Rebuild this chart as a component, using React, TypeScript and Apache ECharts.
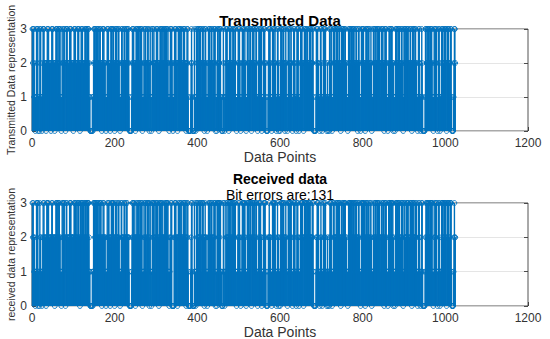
import React, { useEffect, useRef } from "react";
import * as echarts from "echarts";

// Symbol values 0..3 read (estimated) from the stem plots, 16 blocks of 64 points
const transmittedBlocks = [
  "3233121011332301103231101233322120223323221220233312220223323212",
  "3323110132223322023332122232332122202332321222333220223233212223",
  "2332232332110000010123323223223321233222023323222101133232220233",
  "3223322023233222332101123322123322232332231000001233232220233232",
  "2332232332011132233212233220231101332232221233232202233223321233",
  "2232332231101233232101123233222023323223321223233222023231000001",
  "2321000031101322332232332122332202332110123233222332122323301102",
  "3322323311000132101132332220233232122332223311011232332101123323",
  "2232101133223223320223323221233110123322323011132332210000123323",
  "2110132332232101133201102332322332202321101332232232101132321101",
  "3233101123233222023323223321223233222323100000132332211013321011",
  "3233231101201103322310113233222323321233220232332322332121101323",
  "3223322323321223322023321101323233222023323223321223201113322323",
  "2232332232122332322023323211012332232332202110133232232332122332",
  "1013233223223321223322023323223322110132321011321000001332232332",
  "3223233211013233223101133201113233222323320232332212331000012332",
];

const receivedBlocks = [
  "3232121011333301103221101232322120233323221222233212220223323232",
  "3322110132323322023322122232332222212332323222333220323233213223",
  "2332233332110000010133323233223321233232022323222101132233220223",
  "3233322023223222332101133222123322232322221000001233233220232232",
  "2332232233011132233212333230231101332332231233232203233223321223",
  "2232333231101223230000023233222023223223321223233223023231000001",
  "2331000031101332322232332123332202322110123232322332122323301103",
  "3323323311000133101132232223233232132332233311011232232101123333",
  "2332101133233223320233323231233110123323322011132333210000122322",
  "2110133332332101132201102332323332212321101333232332101132331101",
  "3232101123233322023323323321323232222323100000122332311012321011",
  "3232231101201102332310113232222323321333220232232323332121101333",
  "3233322323321323322123321101333233232023323223221323201113222333",
  "2233332232122322332023323211013332233332302110133233232332122333",
  "1013232223233321223323023323222323110132321011331000001232332332",
  "3223333311013223233101133201113333223323320233332213331000012322",
];

const transmitted: number[] = transmittedBlocks.join("").split("").map(Number);
const received: number[] = receivedBlocks.join("").split("").map(Number);

const xTicks = [0, 200, 400, 600, 800, 1000, 1200];
const yTicks = [0, 1, 2, 3];
const bitErrors = 131;

const BLUE = "#0072BD";
const FONT = "'Liberation Sans', Arial, Helvetica, sans-serif";
const TXT = "#333333";

export default function App() {
  const ref = useRef<HTMLDivElement>(null);

  useEffect(() => {
    const chart = echarts.init(ref.current!, null, { renderer: "svg" });

    const stemItem = (params: any, api: any) => {
      const xv = api.value(0);
      const yv = api.value(1);
      const base = api.coord([xv, 0]);
      const top = api.coord([xv, yv]);
      const children: any[] = [];
      if (yv > 0) {
        children.push({
          type: "line",
          shape: { x1: base[0], y1: base[1], x2: top[0], y2: top[1] },
          style: { stroke: BLUE, lineWidth: 1.4 },
        });
      }
      children.push({
        type: "circle",
        shape: { cx: top[0], cy: top[1], r: 2.4 },
        style: { fill: "none", stroke: BLUE, lineWidth: 0.9 },
      });
      return { type: "group", children };
    };

    const xAxis = (gi: number) => ({
      type: "value",
      gridIndex: gi,
      min: xTicks[0],
      max: xTicks[xTicks.length - 1],
      interval: xTicks[1] - xTicks[0],
      axisLine: { show: false },
      axisTick: { show: true, inside: true, length: 4, lineStyle: { color: "#262626", width: 0.8 } },
      axisLabel: { color: TXT, fontSize: 12, fontFamily: FONT, margin: 6, formatter: (v: number) => String(v) },
      splitLine: { show: false },
      name: "Data Points",
      nameLocation: "middle",
      nameGap: 19,
      nameTextStyle: { color: TXT, fontSize: 14, fontFamily: FONT },
    });

    const yAxisLeft = (gi: number, name: string) => ({
      type: "value",
      gridIndex: gi,
      min: yTicks[0],
      max: yTicks[yTicks.length - 1],
      interval: 1,
      axisLine: { show: false },
      axisTick: { show: true, inside: true, length: 4, lineStyle: { color: "#262626", width: 0.8 } },
      axisLabel: { color: TXT, fontSize: 12, fontFamily: FONT, margin: 5 },
      splitLine: { show: true, lineStyle: { color: "#dedede", width: 0.8 } },
      name,
      nameLocation: "middle",
      nameGap: 16,
      nameMoveOverlap: false,
      nameTextStyle: { color: TXT, fontSize: 10.5, fontFamily: FONT },
    });

    const yAxisRight = (gi: number) => ({
      type: "value",
      gridIndex: gi,
      position: "right",
      min: yTicks[0],
      max: yTicks[yTicks.length - 1],
      interval: 1,
      axisLine: { show: false },
      axisTick: { show: true, inside: true, length: 4, lineStyle: { color: "#262626", width: 0.8 } },
      axisLabel: { show: false },
      splitLine: { show: false },
    });

    const textEl = (text: string, x: number, y: number, size: number, bold: boolean) => ({
      type: "text",
      x,
      y,
      style: {
        text,
        font: `${bold ? "bold " : ""}${size}px ${FONT}`,
        fill: "#000",
        align: "center",
        verticalAlign: "middle",
        textAlign: "center",
        textVerticalAlign: "middle",
      },
      silent: true,
    });

    const gridBase = {
      left: 32,
      width: 496,
      show: true,
      borderColor: "#262626",
      borderWidth: 0.8,
      backgroundColor: "transparent",
      containLabel: false,
      outerBoundsMode: "none",
    };

    chart.setOption({
      animation: false,
      backgroundColor: "#ffffff",
      grid: [
        { ...gridBase, top: 29, height: 102 },
        { ...gridBase, top: 203, height: 103 },
      ],
      xAxis: [xAxis(0), xAxis(1)],
      yAxis: [
        yAxisLeft(0, "Transmitted Data representation"),
        yAxisRight(0),
        yAxisLeft(1, "received data representation"),
        yAxisRight(1),
      ],
      graphic: [
        textEl("Transmitted Data", 280, 20.5, 15, true),
        textEl("Received data", 280, 179, 14, true),
        textEl(`Bit errors are:${bitErrors}`, 280, 194.5, 14, false),
      ],
      series: [
        {
          type: "custom",
          xAxisIndex: 0,
          yAxisIndex: 0,
          silent: true,
          data: transmitted.map((v, i) => [i + 1, v]),
          renderItem: stemItem,
          z: 3,
        },
        {
          type: "custom",
          xAxisIndex: 1,
          yAxisIndex: 2,
          silent: true,
          data: received.map((v, i) => [i + 1, v]),
          renderItem: stemItem,
          z: 3,
        },
      ],
    });

    return () => chart.dispose();
  }, []);

  return (
    <div
      ref={ref}
      style={{ position: "fixed", left: 0, top: 0, width: 550, height: 339, background: "#fff" }}
    />
  );
}
